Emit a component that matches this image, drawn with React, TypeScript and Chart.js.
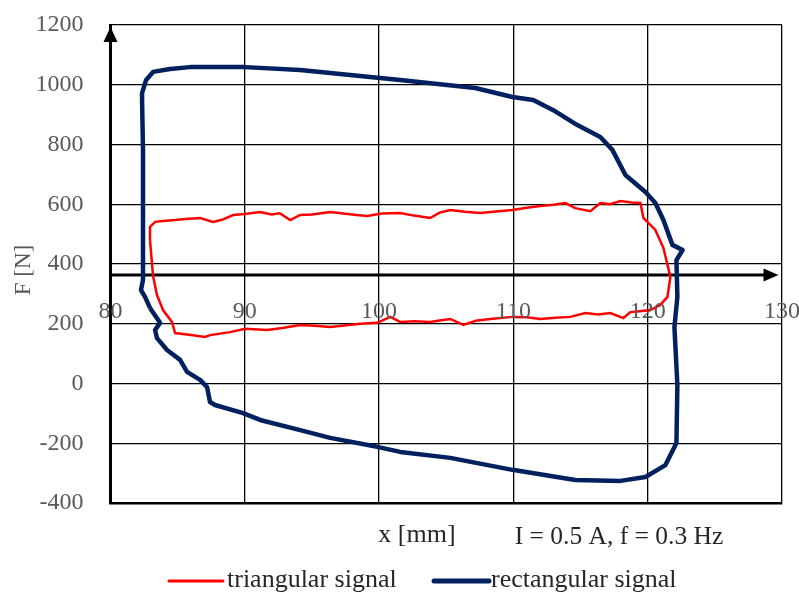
import React, { useEffect, useRef } from "react";
import { Chart, registerables } from "chart.js";

Chart.register(...registerables);

// ---- data ----
const xTickLabels = [80, 90, 100, 110, 120, 130];
const yTickValues = [-400, -200, 0, 200, 400, 600, 800, 1000, 1200];

const triangularX = [
  82.94, 82.94, 83.32, 83.9, 84.81, 85.6, 86.67, 87.64, 88.3, 89.13, 90.0, 91.14, 92.0, 92.6, 93.38,
  94.12, 95.0, 96.36, 97.5, 98.3, 99.11, 100.2, 101.57, 102.6, 103.8, 104.5, 105.3, 106.4, 107.53,
  108.7, 109.92, 111.0, 112.0, 113.0, 113.87, 114.61, 115.73, 116.47, 117.2, 117.97, 118.8, 119.46,
  119.68, 120.1, 120.57, 121.17, 121.69, 121.47, 120.94, 120.2, 119.4, 118.71, 118.19, 117.22, 116.3,
  115.36, 114.24, 113.1, 112.0, 111.0, 109.92, 108.28, 107.2, 106.27, 105.3, 104.5, 103.8, 102.6,
  101.57, 100.83, 99.86, 98.6, 97.4, 96.36, 95.2, 94.12, 92.8, 91.66, 90.02, 88.9, 87.41, 87.04,
  86.0, 84.81, 84.58, 83.91, 83.46, 83.17, 82.94,
];
const triangularF = [
  480, 524, 541, 544, 547, 551, 554, 541, 548, 564, 567, 574, 566, 570, 547,
  564, 566, 574, 568, 564, 561, 569, 571, 562, 554, 572, 581, 575, 571,
  576, 581, 588, 594, 598, 604, 587, 577, 604, 600, 611, 606, 604,
  554, 535, 514, 454, 357, 290, 263, 246, 242, 239, 219, 236, 231,
  236, 223, 220, 216, 222, 223, 216, 210, 196, 216, 211, 206, 208,
  206, 223, 203, 200, 194, 189, 193, 196, 186, 179, 183, 172, 162, 156,
  162, 169, 206, 246, 296, 360, 480,
];

const rectangularX = [
  82.94, 82.57, 82.27, 82.42, 82.42, 82.42, 82.42, 82.35, 82.35, 82.65, 83.17, 84.43, 85.92, 90.02,
  94.12, 98.59, 101.57, 107.16, 109.92, 111.48, 112.97, 114.76, 116.47, 117.37, 118.34, 119.83,
  120.57, 121.17, 121.84, 122.6, 122.14, 122.21, 121.99, 122.21, 122.14, 121.32, 119.83, 117.97,
  114.61, 109.92, 105.3, 101.57, 99.86, 96.36, 94.12, 91.14, 89.87, 87.78, 87.41, 87.19, 86.67,
  85.7, 85.18, 84.21, 83.46, 83.32, 83.69, 82.94,
];
const rectangularF = [
  253, 290, 313, 347, 447, 614, 782, 949, 972, 1016, 1043, 1053, 1059, 1059,
  1049, 1029, 1016, 989, 959, 949, 915, 865, 825, 782, 698, 641,
  604, 547, 464, 447, 413, 290, 189, -5, -199, -273, -313, -326,
  -323, -289, -249, -229, -212, -182, -156, -122, -99, -72, -62, -12, 12,
  39, 79, 112, 152, 179, 203, 253,
];

const axisLineValue = 363;
const seriesNames = ["triangular signal", "rectangular signal"];
const seriesColors = ["#ff0000", "#002060"];
const xTitle = "x [mm]";
const yTitle = "F [N]";
const noteText = "I = 0.5 A, f = 0.3 Hz";

const FONT = "'Liberation Serif', serif";

const overlay = {
  id: "overlay",
  beforeDatasetsDraw(chart: any) {
    const { ctx, chartArea, scales } = chart;
    const y = scales.y.getPixelForValue(axisLineValue);
    const tipX = scales.x.getPixelForValue(129.74);
    ctx.save();
    ctx.strokeStyle = "#000";
    ctx.lineWidth = 3;
    ctx.beginPath();
    ctx.moveTo(chartArea.left, y);
    ctx.lineTo(tipX - 10, y);
    ctx.stroke();
    ctx.fillStyle = "#000";
    ctx.beginPath();
    ctx.moveTo(tipX, y);
    ctx.lineTo(tipX - 15, y - 6.5);
    ctx.lineTo(tipX - 15, y + 6.5);
    ctx.closePath();
    ctx.fill();
    ctx.restore();
  },
  afterDraw(chart: any) {
    const { ctx, chartArea, scales } = chart;
    ctx.save();
    // vertical arrow head
    const ax = chartArea.left;
    const tipY = chartArea.top + 2;
    ctx.fillStyle = "#000";
    ctx.beginPath();
    ctx.moveTo(ax, tipY);
    ctx.lineTo(ax - 7, tipY + 15);
    ctx.lineTo(ax + 7, tipY + 15);
    ctx.closePath();
    ctx.fill();

    // x tick labels near the arrow line
    const yLine = scales.y.getPixelForValue(axisLineValue);
    ctx.font = `24px ${FONT}`;
    ctx.fillStyle = "#595959";
    ctx.textAlign = "center";
    ctx.textBaseline = "middle";
    xTickLabels.forEach((v) => {
      ctx.fillText(String(v), scales.x.getPixelForValue(v), yLine + 37);
    });

    // y title
    ctx.font = `23px ${FONT}`;
    ctx.save();
    ctx.translate(24, 270);
    ctx.rotate(-Math.PI / 2);
    ctx.fillText(yTitle, 0, 0);
    ctx.restore();

    // x title and note
    ctx.fillStyle = "#262626";
    ctx.font = `26px ${FONT}`;
    ctx.fillText(xTitle, 417, 535);
    ctx.font = `25.5px ${FONT}`;
    ctx.fillText(noteText, 619, 537);

    // legend
    const legendY = 581;
    const items = [
      { x0: 169, x1: 223, tx: 227, w: 3 },
      { x0: 434, x1: 489, tx: 491, w: 5 },
    ];
    ctx.textAlign = "left";
    ctx.font = `26px ${FONT}`;
    items.forEach((it, i) => {
      ctx.strokeStyle = seriesColors[i];
      ctx.lineWidth = it.w;
      ctx.lineCap = "round";
      ctx.beginPath();
      ctx.moveTo(it.x0, legendY);
      ctx.lineTo(it.x1, legendY);
      ctx.stroke();
      ctx.fillStyle = "#262626";
      ctx.fillText(seriesNames[i], it.tx, legendY - 1);
    });
    ctx.restore();
  },
};

export default function App() {
  const ref = useRef<HTMLCanvasElement | null>(null);
  useEffect(() => {
    if (!ref.current) return;
    const toPts = (xs: number[], ys: number[]) => xs.map((x, i) => ({ x, y: ys[i] }));
    const chart = new Chart(ref.current, {
      type: "scatter",
      data: {
        datasets: [
          {
            label: seriesNames[1],
            data: toPts(rectangularX, rectangularF),
            showLine: true,
            borderColor: seriesColors[1],
            borderWidth: 4.5,
            pointRadius: 0,
            tension: 0,
            order: 2,
            borderJoinStyle: "round",
          } as any,
          {
            label: seriesNames[0],
            data: toPts(triangularX, triangularF),
            showLine: true,
            borderColor: seriesColors[0],
            borderWidth: 2.5,
            pointRadius: 0,
            tension: 0,
            order: 1,
          } as any,
        ],
      },
      options: {
        responsive: false,
        animation: false,
        layout: { padding: { left: 0, top: 25, right: 17, bottom: 90 } },
        plugins: { legend: { display: false }, tooltip: { enabled: false } },
        scales: {
          x: {
            type: "linear",
            min: 80,
            max: 130,
            ticks: { display: false, stepSize: 10 },
            grid: { color: "#000", lineWidth: 1.3, drawTicks: false },
            border: { display: true, color: "#000", width: 2.5 },
            afterFit: (s: any) => {
              s.height = 0;
            },
          },
          y: {
            type: "linear",
            min: -400,
            max: 1200,
            afterBuildTicks: (s: any) => {
              s.ticks = yTickValues.map((v) => ({ value: v }));
            },
            ticks: {
              color: "#595959",
              font: { family: FONT, size: 24 },
              padding: 3,
              callback: (v: any) => String(v),
            },
            grid: {
              color: "#000",
              lineWidth: 1.3,
              drawTicks: true,
              tickLength: 24,
              tickColor: "rgba(0,0,0,0)",
            },
            border: { display: true, color: "#000", width: 3 },
            afterFit: (s: any) => {
              s.width = 110.5;
            },
          },
        },
      },
      plugins: [overlay],
    });
    return () => chart.destroy();
  }, []);
  return (
    <div style={{ position: "absolute", left: 0, top: 0, width: 799, height: 593, background: "#fff" }}>
      <canvas ref={ref} width={799} height={593} />
    </div>
  );
}
